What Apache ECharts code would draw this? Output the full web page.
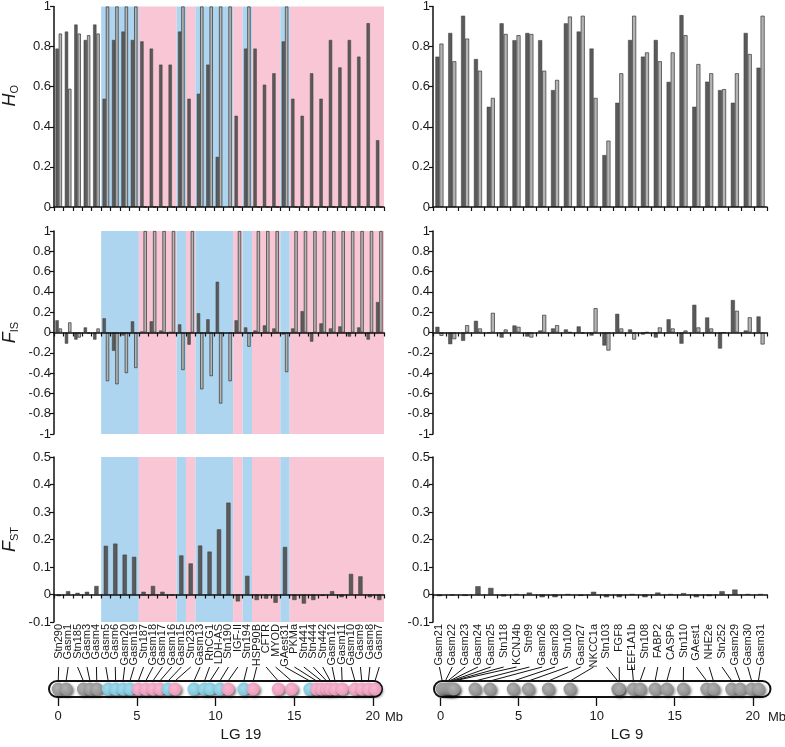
<!DOCTYPE html>
<html><head><meta charset="utf-8">
<script src="https://cdn.jsdelivr.net/npm/echarts@6/dist/echarts.min.js"></script>
<style>html,body{margin:0;padding:0;background:#fff}#c{width:785px;height:747px}</style>
</head><body><div id="c"></div>
<script>
// ---------- DATA ----------
const lg19Markers = ['Stn290','Gasm1','Stn185','Gasm3','Gasm4','Gasm5','Gasm6','Gasm20','Gasm19','Stn187','Gasm18','Gasm17','Gasm16','Gasm15','Stn235','Gasm13','RhCG1','LDH-AS','Stn190','IGF-II','Stn194','HSP90B','CFTR','MYOD','GAest31','PKMa','Stn441','Stn444','Stn442','Gasm12','Gasm11','Gasm10','Gasm9','Gasm8','Gasm7'];
// n = none, b = blue, p = pink
const lg19Region = ['n','n','n','n','n','b','b','b','b','p','p','p','p','b','p','b','b','b','b','p','b','p','p','p','b','p','p','p','p','p','p','p','p','p','p'];
const lg19Mb = [0.0,0.5,1.6,2.02,2.45,3.18,3.65,4.12,4.56,5.09,5.56,6.02,6.46,6.98,7.42,8.63,9.3,9.65,10.28,10.8,11.8,12.4,13.99,14.84,16.0,16.43,16.75,17.07,17.3,17.6,18.05,18.87,19.3,19.72,20.14];
const lg19HoA = [0.79,0.875,0.91,0.833,0.91,0.54,0.833,0.875,0.833,0.826,0.79,0.71,0.71,0.875,0.54,0.565,0.71,0.25,null,0.455,0.79,0.79,0.61,0.667,0.826,0.54,0.455,0.667,0.54,0.833,0.696,0.833,0.75,0.917,0.333];
const lg19HoB = [0.865,0.59,0.865,0.857,0.865,1,1,1,1,0,0,0,0,1,0,1,1,1,1,0,1,0,0,0,1,0,0,0,0,0,0,0,0,0,0];
const lg19FisA = [0.12,-0.11,-0.07,0.05,-0.07,0.14,-0.18,-0.03,0.11,0.01,0.11,0.02,0.005,0.08,-0.12,0.19,0.13,0.5,null,0.12,0.05,0.02,0.07,0.04,-0.02,0.04,0.21,-0.09,0.09,0.04,0.06,-0.04,0.05,-0.07,0.3];
const lg19FisB = [0.04,0.1,-0.05,-0.01,0.04,-0.48,-0.51,-0.4,-0.35,1,1,1,1,-0.37,1,-0.56,-0.43,-0.7,-0.48,1,-0.14,1,1,1,-0.39,1,1,1,1,1,1,1,1,1,1];
const lg19Fst = [-0.006,0.012,0.006,0.01,0.031,0.177,0.185,0.145,0.137,0.01,0.031,0.01,-0.003,0.142,0.113,0.178,0.156,0.237,0.334,-0.025,0.068,-0.02,-0.015,-0.03,0.173,-0.02,-0.033,-0.02,-0.005,0.012,-0.01,0.075,0.066,-0.01,-0.02];
const lg19Span = [-0.65, 20.65];

const lg9Markers = ['Gasm21','Gasm22','Gasm23','Gasm24','Gasm25','Stn118','KCNJ4b','Stn99','Gasm26','Gasm28','Stn100','Gasm27','NKCC1a','Stn103','FGF8','EEF1A1b','Stn108','FABP2','CASP6','Stn110','GAest1','NHE2e','Stn252','Gasm29','Gasm30','Gasm31'];
const lg9Mb = [0.1,0.3,0.45,0.55,0.65,0.75,0.85,2.2,3.16,4.65,5.62,6.9,8.29,11.35,11.45,12.35,12.78,13.74,14.49,15.55,17.05,17.48,18.65,19.19,19.93,20.36];
const lg9HoA = [0.75,0.868,0.954,0.738,0.5,0.916,0.832,0.868,0.832,0.583,0.916,0.875,0.79,0.259,0.52,0.833,0.75,0.833,0.624,0.957,0.5,0.625,0.583,0.52,0.868,0.695];
const lg9HoB = [0.815,0.727,0.84,0.68,0.544,0.863,0.857,0.863,0.68,0.634,0.95,0.954,0.544,0.331,0.667,0.954,0.771,0.727,0.771,0.857,0.713,0.667,0.588,0.667,0.763,0.954];
const lg9FisA = [0.056,-0.115,-0.082,0.115,-0.005,-0.05,0.069,-0.04,0.02,0.04,0.03,0.06,-0.03,-0.128,0.184,0.03,-0.02,-0.05,0.13,-0.11,0.273,0.148,-0.158,0.32,0.02,0.158];
const lg9FisB = [-0.033,-0.066,0.072,0.04,0.194,0.03,0.056,-0.05,0.174,0.072,0.003,-0.01,0.24,-0.178,0.04,-0.07,0.003,0.05,0.04,0.02,0.05,0.04,0.0,0.214,0.15,-0.118];
const lg9Fst = [-0.006,-0.003,-0.005,0.03,0.024,-0.007,0.001,0.007,-0.01,-0.01,0.001,-0.005,0.01,-0.01,-0.01,0.001,-0.01,0.007,0.001,0.005,-0.01,-0.006,0.012,0.018,0.001,0.001];
const lg9Span = [-0.49, 21.2];

const mbTicks = [0, 5, 10, 15, 20];
const hoRange = [0, 1, 0.2];
const fisRange = [-1, 1, 0.2];
const fstRange = [-0.1, 0.5, 0.1];

// ---------- STYLE ----------
const FONT = '"Liberation Sans", Arial, Helvetica, sans-serif';
const TXT = '#1a1a1a';
const AX = '#111';
const DARK = '#5a5a5a', LIGHT = '#b4b4b4';
const PINK = '#f8c6d4', BLUE = '#add5f0';
const MARK_COL = { n: ['#b0b0b0', '#8e8e8e'], b: ['#a4dcec', '#78c4dd'], p: ['#f6b9d1', '#ec96b8'] };

const cols = [{ left: 52, right: 401 }, { left: 433, right: 18 }];
const rows = [{ top: 5, height: 202 }, { top: 231, height: 203 }, { top: 457, height: 165 }];

const grid = [];
rows.forEach(r => cols.forEach(c => grid.push({ left: c.left, right: c.right, top: r.top, height: r.height })));
grid.push({ left: 48, right: 402, top: 680, height: 18 });
grid.push({ left: 433, right: 13.5, top: 680, height: 18 });

// runs of shaded regions
function runs(reg) {
  const out = []; let i = 0;
  while (i < reg.length) {
    if (reg[i] === 'n') { i++; continue; }
    let j = i; while (j + 1 < reg.length && reg[j + 1] === reg[i]) j++;
    out.push([i, j, reg[i]]); i = j + 1;
  }
  return out;
}
const lg19Runs = runs(lg19Region);

const catAxis = (g, data) => ({
  type: 'category', gridIndex: g, data: data, z: 5,
  axisLine: { onZero: true, lineStyle: { color: AX, width: 1.5 } },
  axisTick: { show: true, interval: 0, length: 4, lineStyle: { color: AX, width: 1.2 } },
  axisLabel: { show: false }, splitLine: { show: false }
});
const valAxis = (g, rng, name, extra) => Object.assign({
  type: 'value', gridIndex: g, min: rng[0], max: rng[1], interval: rng[2],
  axisLine: { show: true, lineStyle: { color: AX, width: 1.5 } },
  axisTick: { show: true, length: 4, lineStyle: { color: AX, width: 1.2 } },
  splitLine: { show: false },
  axisLabel: { fontSize: 13, color: TXT, margin: 3, fontFamily: FONT }
}, name ? {
  name: name, nameLocation: 'middle', nameRotate: 90, nameGap: 34,
  nameTextStyle: {
    rich: {
      i: { fontSize: 18, fontStyle: 'italic', fontFamily: FONT, color: TXT },
      s: { fontSize: 11, fontFamily: FONT, color: TXT, padding: [9, 0, 0, 0] }
    }
  }
} : {}, extra || {});

const xAxis = [
  catAxis(0, lg19Markers), catAxis(1, lg9Markers),
  catAxis(2, lg19Markers), catAxis(3, lg9Markers),
  Object.assign(catAxis(4, lg19Markers), { position: 'top', axisTick: { show: true, inside: true, interval: 0, length: 4, lineStyle: { color: AX, width: 1.2 } } }),
  Object.assign(catAxis(5, lg9Markers), { position: 'top', axisTick: { show: true, inside: true, interval: 0, length: 4, lineStyle: { color: AX, width: 1.2 } } }),
  { type: 'category', gridIndex: 4, data: lg19Markers, position: 'bottom', axisLine: { show: false, onZero: false }, axisTick: { show: false },
    axisLabel: { rotate: 90, margin: 2, interval: 0, fontSize: 11, color: TXT, fontFamily: FONT } },
  { type: 'category', gridIndex: 5, data: lg9Markers, position: 'bottom', axisLine: { show: false, onZero: false }, axisTick: { show: false },
    axisLabel: { rotate: 90, margin: 2, interval: 0, fontSize: 11, color: TXT, fontFamily: FONT } },
  { type: 'value', gridIndex: 6, min: lg19Span[0], max: lg19Span[1], axisLine: { show: false }, splitLine: { show: false },
    axisTick: { show: true, length: 8, customValues: mbTicks, lineStyle: { color: AX, width: 1.3 } },
    axisLabel: { customValues: mbTicks, margin: 12, fontSize: 13, color: TXT, fontFamily: FONT } },
  { type: 'value', gridIndex: 7, min: lg9Span[0], max: lg9Span[1], axisLine: { show: false }, splitLine: { show: false },
    axisTick: { show: true, length: 8, customValues: mbTicks, lineStyle: { color: AX, width: 1.3 } },
    axisLabel: { customValues: mbTicks, margin: 12, fontSize: 13, color: TXT, fontFamily: FONT } }
];

const yAxis = [
  valAxis(0, hoRange, '{i|H}{s|O}', {}),
  valAxis(1, hoRange),
  valAxis(2, fisRange, '{i|F}{s|IS}'),
  valAxis(3, fisRange),
  valAxis(4, fstRange, '{i|F}{s|ST}'),
  valAxis(5, fstRange),
  { type: 'value', gridIndex: 6, min: 0, max: 1, show: false },
  { type: 'value', gridIndex: 7, min: 0, max: 1, show: false }
];
yAxis[0].nameTextStyle.padding = [0, 0, 0, 22];

function bgSeries(xi, rng) {
  return {
    type: 'custom', xAxisIndex: xi, yAxisIndex: xi, z: 1, silent: true,
    encode: { x: [0, 1] },
    data: lg19Runs.map(r => ({ value: [r[0], r[1]], itemStyle: { color: r[2] === 'b' ? BLUE : PINK } })),
    renderItem: (params, api) => {
      const band = api.size([1, 0])[0];
      const a = api.coord([api.value(0), rng[1]]);
      const b = api.coord([api.value(1), rng[0]]);
      return { type: 'rect', shape: { x: a[0] - band / 2, y: a[1], width: b[0] - a[0] + band, height: b[1] - a[1] },
        style: { fill: api.visual('color') } };
    }
  };
}
function barPair(i, a, b, gap) {
  return [
    { type: 'bar', xAxisIndex: i, yAxisIndex: i, data: a, barGap: '0%', barCategoryGap: gap, z: 3,
      itemStyle: { color: DARK, borderColor: '#3c3c3c', borderWidth: 0.5 } },
    { type: 'bar', xAxisIndex: i, yAxisIndex: i, data: b, barGap: '0%', barCategoryGap: gap, z: 3,
      itemStyle: { color: LIGHT, borderColor: '#333', borderWidth: 0.7 } }
  ];
}
function fstBar(i, d, w) {
  return { type: 'bar', xAxisIndex: i, yAxisIndex: i, data: d, barWidth: w, z: 3,
    itemStyle: { color: DARK, borderColor: '#3c3c3c', borderWidth: 0.5 } };
}
function chromSeries(xi, yi, span) {
  return {
    type: 'custom', xAxisIndex: xi, yAxisIndex: yi, z: 1, clip: false, silent: true,
    encode: { x: [0, 1] }, data: [span],
    renderItem: (p, api) => {
      const a = api.coord([api.value(0), 1]), b = api.coord([api.value(1), 0]);
      const h = b[1] - a[1] - 2;
      return { type: 'rect', shape: { x: a[0] + 1, y: a[1] + 1, width: b[0] - a[0] - 2, height: h, r: h / 2 },
        style: { fill: '#fff', stroke: '#111', lineWidth: 2 } };
    }
  };
}
function markerSeries(xi, yi, mb, reg) {
  return {
    type: 'scatter', xAxisIndex: xi, yAxisIndex: yi, z: 4, clip: false, silent: true, symbolSize: 13,
    data: mb.map((m, i) => {
      const c = MARK_COL[reg ? reg[i] : 'n'];
      return { value: [m, 0.5], itemStyle: { color: { type: 'radial', x: 0.42, y: 0.4, r: 0.6,
        colorStops: [{ offset: 0, color: c[0] }, { offset: 1, color: c[1] }] } } };
    }),
    itemStyle: { opacity: 1, shadowBlur: 3, shadowColor: 'rgba(0,0,0,0.55)', shadowOffsetX: 1.5, shadowOffsetY: 2 }
  };
}

const series = [
  bgSeries(0, hoRange), bgSeries(2, fisRange), bgSeries(4, fstRange),
  ...barPair(0, lg19HoA, lg19HoB, '30%'),
  ...barPair(1, lg9HoA, lg9HoB, '37%'),
  ...barPair(2, lg19FisA, lg19FisB, '30%'),
  ...barPair(3, lg9FisA, lg9FisB, '37%'),
  fstBar(4, lg19Fst, '45%'),
  fstBar(5, lg9Fst, '41%'),
  chromSeries(8, 6, lg19Span), markerSeries(8, 6, lg19Mb, lg19Region),
  chromSeries(9, 7, lg9Span), markerSeries(9, 7, lg9Mb, null)
];

const chart = echarts.init(document.getElementById('c'), null, { renderer: 'canvas' });
chart.setOption({ animation: false, backgroundColor: '#fff', textStyle: { fontFamily: FONT }, grid, xAxis, yAxis, series });

function links(labelAxis, mbAxis, mbYAxis, mb) {
  const yBot = chart.convertToPixel({ yAxisIndex: mbYAxis }, 1) + 1;
  return mb.map((m, i) => ({
    type: 'line', silent: true, z: 0,
    shape: { x1: chart.convertToPixel({ xAxisIndex: labelAxis }, i), y1: 667,
             x2: chart.convertToPixel({ xAxisIndex: mbAxis }, m), y2: yBot },
    style: { stroke: '#111', lineWidth: 1 }
  }));
}
const txt = (x, y, t, align, size) => ({ type: 'text', x, y, silent: true,
  style: { text: t, fill: TXT, fontSize: size, fontFamily: FONT, align: align, verticalAlign: 'middle' } });

chart.setOption({
  graphic: [
    ...links(6, 8, 6, lg19Mb),
    ...links(7, 9, 7, lg9Mb),
    txt(241, 735, 'LG 19', 'center', 15),
    txt(627, 735, 'LG 9', 'center', 15),
    txt(385, 717, 'Mb', 'left', 13),
    txt(768, 717, 'Mb', 'left', 13)
  ]
});
</script></body></html>
